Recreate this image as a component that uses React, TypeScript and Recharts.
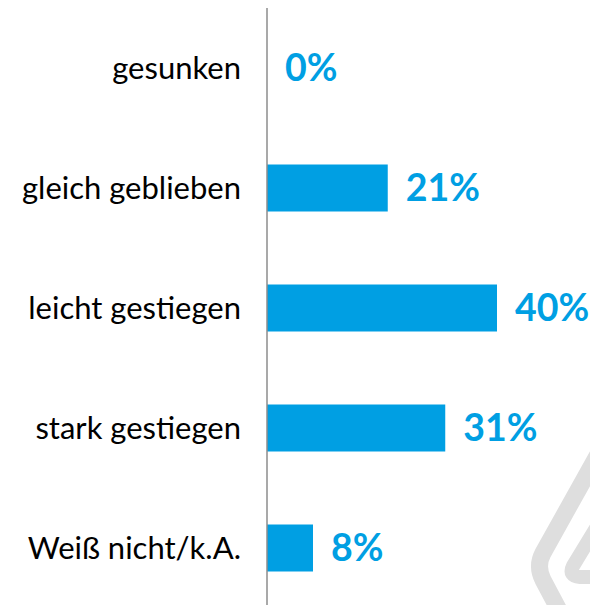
import React from "react";
import { BarChart, Bar, XAxis, YAxis, LabelList, Cell } from "recharts";

const categories = ["gesunken", "gleich geblieben", "leicht gestiegen", "stark gestiegen", "Weiß nicht/k.A."];
const values = [0, 21, 40, 31, 8];

const data = categories.map((name, i) => ({ name, value: values[i] }));

const BLUE = "#009FE3";

const ValueLabel = (props: any) => {
  const { x, y, width, height, value } = props;
  const w = Number(value) === 0 ? 0 : Number(width || 0);
  const xx = Number(x) + w + 18;
  const yy = Number(y) + Number(height || 0) / 2;
  return (
    <text
      x={xx}
      y={yy}
      dy="0.36em"
      textAnchor="start"
      fill={BLUE}
      fontSize={37.5}
      fontWeight={700}
      fontFamily="Lato"
    >
      {`${value}%`}
    </text>
  );
};

export default function App() {
  return (
    <div style={{ position: "relative", width: 590, height: 600 }}>
      <BarChart
        width={590}
        height={600}
        data={data}
        layout="vertical"
        margin={{ top: 0, right: 43.5, bottom: 0, left: 0 }}
        barCategoryGap="30.4%"
      >
        <XAxis type="number" domain={[0, 50]} hide />
        <YAxis
          type="category"
          dataKey="name"
          width={259}
          axisLine={{ stroke: "#8c8c8c", strokeWidth: 1.5 }}
          tickLine={false}
          tickMargin={20}
          tick={{ fill: "#000", fontSize: 31, fontFamily: "Lato" }}
        />
        <Bar dataKey="value" fill={BLUE} minPointSize={1} isAnimationActive={false}>
          {data.map((d) => (
            <Cell key={d.name} fill={d.value === 0 ? "transparent" : BLUE} />
          ))}
          <LabelList dataKey="value" content={ValueLabel} />
        </Bar>
      </BarChart>
      <svg
        width={590}
        height={600}
        style={{ position: "absolute", left: 0, top: 0, pointerEvents: "none" }}
      >
        <path
          d="M 598 432 L 535 545 Q 528 558 535 572 L 552 604"
          fill="none"
          stroke="#dedede"
          strokeWidth={17}
          strokeLinejoin="round"
        />
        <path
          d="M 596 507 L 565 558 Q 560 568 572 569 L 604 569"
          fill="none"
          stroke="#dedede"
          strokeWidth={14}
          strokeLinejoin="round"
        />
      </svg>
    </div>
  );
}
